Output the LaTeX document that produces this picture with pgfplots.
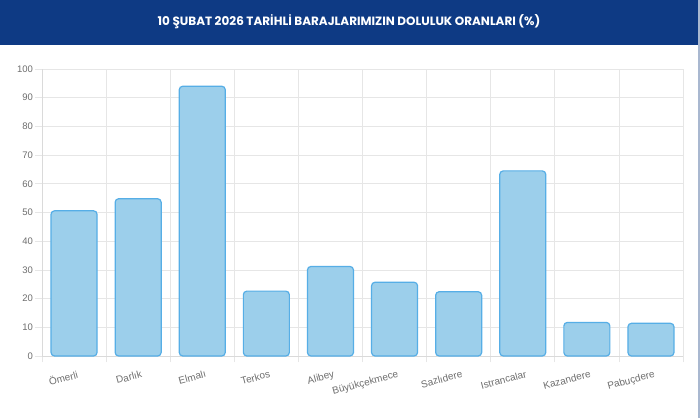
\documentclass[border=0pt]{standalone}
\usepackage{pgfplots}
\pgfplotsset{compat=1.18}
\usepackage{fontspec}
\setmainfont{Liberation Sans}
\newfontfamily\titlefont{Poppins}
\definecolor{hdr}{HTML}{0E3A84}
\definecolor{barfill}{HTML}{9CCFEB}
\definecolor{barline}{HTML}{56AEE6}
\definecolor{gridc}{HTML}{E6E6E6}
\definecolor{axc}{HTML}{DADADA}
\definecolor{tickc}{HTML}{6E6E6E}
\definecolor{edge}{HTML}{A9B8D0}
\begin{document}
\begin{tikzpicture}[x=1pt,y=1pt]
\path[use as bounding box] (0,0) rectangle (700,418);
\fill[white] (0,0) rectangle (700,418);
\fill[hdr] (0,373) rectangle (698,418);
\fill[edge] (697.5,0) rectangle (700,418);
\node[text=white, font=\titlefont\bfseries\fontsize{12}{14}\selectfont] at (349,396) {10 ŞUBAT 2026 TARİHLİ BARAJLARIMIZIN DOLULUK ORANLARI (\%)};
\begin{axis}[
  at={(42pt,62pt)}, anchor=south west,
  scale only axis, width=641pt, height=287pt,
  xmin=-0.5, xmax=9.5, ymin=0, ymax=100,
  ytick={0,10,...,100},
  xtick={0,...,9},
  xticklabels={Ömerli,Darlık,Elmalı,Terkos,Alibey,Büyükçekmece,Sazlıdere,Istrancalar,Kazandere,Pabuçdere},
  minor xtick={-0.5,0.5,...,9.5},
  xminorgrids, ymajorgrids,
  grid style={gridc, line width=0.8pt},
  minor grid style={gridc, line width=0.8pt},
  major x tick style={draw=none},
  minor x tick style={gridc, line width=0.8pt},
  y tick style={gridc, line width=0.8pt},
  tick align=outside,
  minor tick length=6pt, major tick length=7pt,
  axis x line*=bottom, axis y line*=left,
  axis line style={axc, line width=0.8pt, -},
  yticklabel style={text=tickc, font=\fontsize{9.5}{11}\selectfont, xshift=1.5pt},
  xticklabel style={text=tickc, font=\fontsize{10}{12}\selectfont, rotate=15, anchor=north east, xshift=4pt, yshift=-4pt},
  /pgf/number format/assume math mode=true,
  ybar, bar width=46pt,
  clip=false,
]
\addplot[fill=barfill, draw=barline, line width=1.2pt, rounded corners=3.5pt] coordinates {
(0,50.6) (1,54.8) (2,94.0) (3,22.6) (4,31.2) (5,25.7) (6,22.4) (7,64.5) (8,11.7) (9,11.4)};
\end{axis}
\end{tikzpicture}
\end{document}
